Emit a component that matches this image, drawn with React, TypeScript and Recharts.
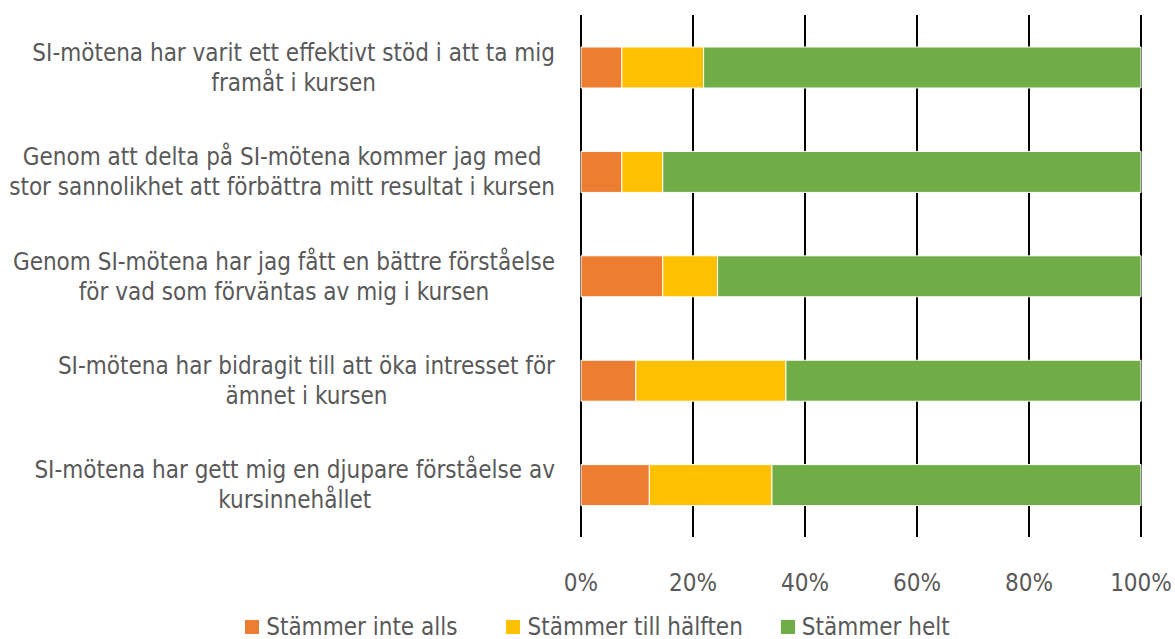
import React from "react";
import { BarChart, Bar, XAxis, YAxis, CartesianGrid, Legend } from "recharts";

const categories = [
  "SI-mötena har varit ett effektivt stöd i att ta mig\nframåt i kursen",
  "Genom att delta på SI-mötena kommer jag med\nstor sannolikhet att förbättra mitt resultat i kursen",
  "Genom SI-mötena har jag fått en bättre förståelse\nför vad som förväntas av mig i kursen",
  "SI-mötena har bidragit till att öka intresset för\nämnet i kursen",
  "SI-mötena har gett mig en djupare förståelse av\nkursinnehållet",
];
const inteAlls = [7.3, 7.3, 14.6, 9.8, 12.2];
const tillHalften = [14.6, 7.3, 9.8, 26.8, 21.9];
const helt = [78.1, 85.4, 75.6, 63.4, 65.9];
const xTicks = [0, 20, 40, 60, 80, 100];
const seriesNames = ["Stämmer inte alls", "Stämmer till hälften", "Stämmer helt"];
const colors = ["#ED7D31", "#FFC000", "#70AD47"];

const data = categories.map((c, i) => ({
  name: c,
  a: inteAlls[i],
  b: tillHalften[i],
  c: helt[i],
}));

const FONT = "'Liberation Sans Narrow', 'DejaVu Sans Condensed', 'Roboto Condensed', sans-serif";
const FS = 24;
const GRAY = "#595959";

let ctx: CanvasRenderingContext2D | null = null;
const measure = (s: string) => {
  if (typeof document === "undefined") return s.length * 10;
  if (!ctx) ctx = document.createElement("canvas").getContext("2d");
  if (!ctx) return s.length * 10;
  ctx.font = `${FS}px ${FONT}`;
  return ctx.measureText(s).width;
};

const YTick = (props: any) => {
  const { x, y, payload } = props;
  const lines = String(payload.value).split("\n");
  const lh = 30;
  const start = -((lines.length - 1) * lh) / 2;
  const maxW = Math.max(...lines.map(measure));
  const cx = x - maxW / 2;
  return (
    <text x={cx} y={y} textAnchor="middle" fill={GRAY} fontSize={FS} fontFamily={FONT}>
      {lines.map((l, i) => (
        <tspan key={i} x={cx} y={y + start + i * lh} dy="0.36em">
          {l}
        </tspan>
      ))}
    </text>
  );
};

const legendGaps = [49, 38, 0];

const LegendContent = () => (
  <div style={{ display: "flex", justifyContent: "center", fontFamily: FONT, fontSize: FS, color: GRAY, paddingLeft: 54, lineHeight: "28px" }}>
    {seriesNames.map((n, i) => (
      <div key={n} style={{ display: "flex", alignItems: "center", marginRight: legendGaps[i] }}>
        <span style={{ width: 14, height: 14, background: colors[i], display: "inline-block", marginRight: 7 }} />
        <span>{n}</span>
      </div>
    ))}
  </div>
);

export default function App() {
  return (
    <div style={{ position: "absolute", left: 0, top: 0, background: "#fff" }}>
      <BarChart
        width={1175}
        height={639}
        data={data}
        layout="vertical"
        margin={{ top: 15, right: 34, bottom: 0, left: 0 }}
        barSize={41}
      >
        <CartesianGrid horizontal={false} vertical stroke="#000" strokeWidth={2} />
        <XAxis
          type="number"
          domain={[0, 100]}
          ticks={xTicks}
          tickFormatter={(v: number) => `${v}%`}
          axisLine={false}
          tickLine={false}
          tick={{ fill: GRAY, fontSize: FS, fontFamily: FONT }}
          tickMargin={31}
          height={76}
          interval={0}
        />
        <YAxis
          type="category"
          dataKey="name"
          width={581}
          axisLine={false}
          tickLine={false}
          tick={<YTick />}
          tickMargin={20}
          interval={0}
        />
        <Legend verticalAlign="bottom" height={26} content={<LegendContent />} />
        <Bar dataKey="a" stackId="s" fill={colors[0]} stroke="#fff" strokeWidth={1} name={seriesNames[0]} isAnimationActive={false} />
        <Bar dataKey="b" stackId="s" fill={colors[1]} stroke="#fff" strokeWidth={1} name={seriesNames[1]} isAnimationActive={false} />
        <Bar dataKey="c" stackId="s" fill={colors[2]} stroke="#fff" strokeWidth={1} name={seriesNames[2]} isAnimationActive={false} />
      </BarChart>
    </div>
  );
}
